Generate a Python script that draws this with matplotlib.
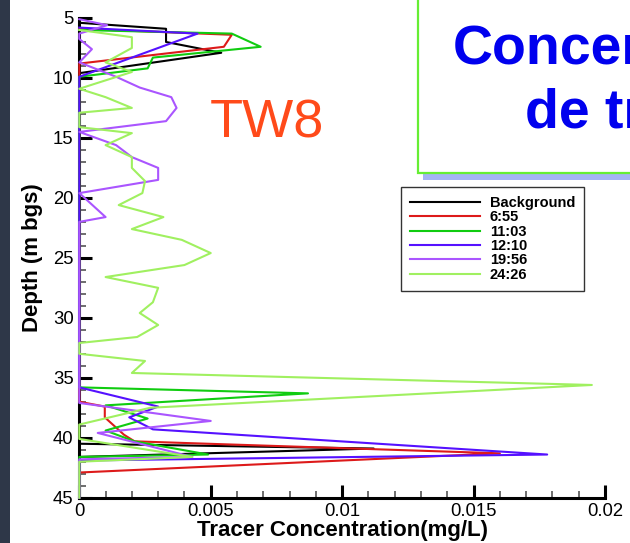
import numpy as np
import matplotlib
matplotlib.use("Agg")
import matplotlib.pyplot as plt
from matplotlib.patches import Rectangle

plt.rcParams['font.family'] = ['Liberation Sans', 'DejaVu Sans']

# depth profiles (m bgs) and tracer concentration (mg/L) for each sampling time
labels = ['Background', '6:55', '11:03', '12:10', '19:56', '24:26']
colors = ['#000000', '#dd1a1a', '#10cc10', '#5511ff', '#aa55ff', '#a0f060']

bg_depth = [5.4, 5.9, 7.0, 7.9, 9.6, 40.5, 40.9, 41.6, 45.0]
bg_conc = [0, 0.0033, 0.0033, 0.0054, 0, 0, 0.0112, 0, 0]

t655_depth = [5.9, 6.4, 7.4, 8.8, 37.0, 37.4, 38.3, 39.75, 40.3, 41.3, 42.9, 45.0]
t655_conc = [0, 0.0058, 0.0055, 0, 0, 0.00097, 0.00097, 0.0017, 0.0021, 0.0160, 0, 0]

t1103_depth = [6.0, 6.3, 7.4, 8.3, 9.2, 9.9, 35.8, 36.3, 37.3, 38.4, 39.4, 40.3, 41.4, 41.6, 45.0]
t1103_conc = [0, 0.0058, 0.0069, 0.0028, 0.0026, 0, 0, 0.0087, 0.0010, 0.0026, 0.0010, 0.0021, 0.0049, 0, 0]

t1210_depth = [5.8, 6.3, 9.9, 35.8, 37.4, 38.3, 39.3, 41.4, 41.9, 45.0]
t1210_conc = [0, 0.0045, 0, 0, 0.0030, 0.0019, 0.0028, 0.0178, 0, 0]

t1956_depth = [5.1, 5.6, 6.3, 6.75, 7.6, 8.7, 9.9, 10.8, 11.6, 12.5, 13.6, 14.5, 15.6, 16.6,
               17.5, 18.5, 19.6, 21.6, 22.0, 37.1, 38.6, 39.6, 41.6, 41.8, 45.0]
t1956_conc = [0, 0.00106, 0, 0, 0.00048, 0, 0.0014, 0.0023, 0.0035, 0.0037, 0.0033, 0, 0.0014, 0.0020,
              0.0030, 0.0030, 0, 0.0010, 0, 0, 0.0050, 0.0007, 0.0043, 0, 0]

t2426_depth = [6.0, 6.6, 7.5, 8.7, 9.5, 10.9, 11.6, 12.5, 12.9, 14.1, 14.6, 15.6, 16.6, 17.5, 18.6,
               19.6, 20.6, 21.6, 22.6, 23.5, 24.6, 25.6, 26.6, 27.5, 28.7, 29.6, 30.6, 31.6, 32.1,
               33.0, 33.6, 34.6, 35.6, 37.5, 38.9, 40.1, 41.6, 42.0, 45.0]
t2426_conc = [0, 0.0020, 0.0020, 0.0010, 0.0020, 0, 0.0010, 0.0020, 0, 0, 0.0020, 0.0010, 0.0020, 0.0020,
              0.0025, 0.0024, 0.0015, 0.0032, 0.0020, 0.0039, 0.0050, 0.0040, 0.0010, 0.0030, 0.0028,
              0.0023, 0.0030, 0.0022, 0, 0, 0.0025, 0.0020, 0.0195, 0.0027, 0, 0, 0.0043, 0, 0]

depths = [bg_depth, t655_depth, t1103_depth, t1210_depth, t1956_depth, t2426_depth]
concs = [bg_conc, t655_conc, t1103_conc, t1210_conc, t1956_conc, t2426_conc]

W, H = 630, 543
fig = plt.figure(figsize=(6.3, 5.43), dpi=100)
fig.patch.set_facecolor('white')

# dark slide edge on the left
fig.patches.append(Rectangle((0, 0), 10 / W, 1, transform=fig.transFigure,
                             facecolor='#2e3748', edgecolor='none', zorder=0))

ax = fig.add_axes([79.3 / W, 1 - 497.7 / H, (605 - 79.3) / W, (497.7 - 18) / H])
for d, c, lab, col in zip(depths, concs, labels, colors):
    ax.plot(c, d, color=col, lw=1.5, label=lab, zorder=3, clip_on=False)

ax.set_xlim(0, 0.02)
ax.set_ylim(45, 5)
ax.set_xticks([0, 0.005, 0.01, 0.015, 0.02])
ax.set_xticklabels(['0', '0.005', '0.01', '0.015', '0.02'])
ax.set_xticks(np.arange(0, 0.0201, 0.001), minor=True)
ax.set_yticks([5, 10, 15, 20, 25, 30, 35, 40, 45])
ax.set_yticks(np.arange(5, 45.1, 1), minor=True)
ax.tick_params(which='major', direction='in', length=9.5, width=2.2, labelsize=13.3, pad=4)
ax.tick_params(which='minor', direction='in', length=5, width=1.2, color='#555555')
ax.tick_params(axis='y', which='both', right=False)
ax.tick_params(axis='x', which='both', top=False)
for s in ['top', 'right']:
    ax.spines[s].set_visible(False)
for s in ['left', 'bottom']:
    ax.spines[s].set_linewidth(2.2)

ax.set_xlabel('Tracer Concentration(mg/L)', fontsize=16, fontweight='bold', labelpad=0)
ax.set_ylabel('Depth (m bgs)', fontsize=16, fontweight='bold', labelpad=7)

leg = ax.legend(loc='upper left', bbox_to_anchor=(401 / W, 1 - 187 / H),
                bbox_transform=fig.transFigure, borderaxespad=0,
                prop={'weight': 'bold', 'size': 10.5},
                handlelength=4.8, handletextpad=0.7, labelspacing=0.03,
                borderpad=0.6, fancybox=False, framealpha=1, edgecolor='#333333')
leg.get_frame().set_linewidth(1.0)

# title box (cut off on the right)
fig.patches.append(Rectangle((423 / W, 1 - 180 / H), 1, 1, transform=fig.transFigure,
                             facecolor='#a4b4f4', edgecolor='none', zorder=1))
fig.patches.append(Rectangle((418 / W, 1 - 173 / H), 1, 1, transform=fig.transFigure,
                             facecolor='white', edgecolor='#66ee33', lw=1.6, zorder=1.5))
fig.text(453 / W, 1 - 63 / H, 'Concentration', color='#0000ee', fontsize=40,
         fontweight='bold', va='baseline', ha='left')
fig.text(525 / W, 1 - 127 / H, 'de traceur', color='#0000ee', fontsize=40,
         fontweight='bold', va='baseline', ha='left')

fig.text(210 / W, 1 - 138 / H, 'TW8', color='#ff4a1a', fontsize=39,
         va='baseline', ha='left')

fig.savefig('out.png', dpi=100)
